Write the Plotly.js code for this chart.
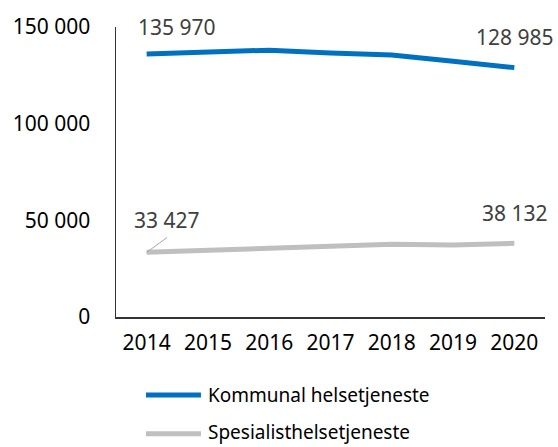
<!DOCTYPE html>
<html><head><meta charset="utf-8">
<script src="https://cdn.plot.ly/plotly-3.0.1.min.js"></script>
<style>html,body{margin:0;padding:0;background:#fff}</style>
</head><body>
<div id="chart" style="width:558px;height:447px"></div>
<script>
const years = ['2014','2015','2016','2017','2018','2019','2020'];
const kommunal = [135970, 137300, 138000, 136600, 135500, 132300, 128985];
const spesialist = [33427, 34300, 35800, 36600, 37600, 37200, 38132];
const seriesNames = ['Kommunal helsetjeneste', 'Spesialisthelsetjeneste'];
const yTicks = [0, 50000, 100000, 150000];

const blue = '#0070C0', gray = '#BFBFBF';
const fontFam = 'Noto Sans, sans-serif';
const fmt = v => String(v).replace(/\B(?=(\d{3})+(?!\d))/g, ' ');

const traces = [
  {x: years, y: kommunal, type: 'scatter', mode: 'lines', name: seriesNames[0],
   line: {color: blue, width: 5}, hoverinfo: 'skip'},
  {x: years, y: spesialist, type: 'scatter', mode: 'lines', name: seriesNames[1],
   line: {color: gray, width: 5}, hoverinfo: 'skip'}
];
const last = years.length - 1;
const lblFont = {family: fontFam, size: 21, color: '#404040'};
const legFont = {family: fontFam, size: 19, color: '#000'};
const annotations = [
  {x: 0, y: kommunal[0], text: fmt(kommunal[0]), showarrow: false, xshift: 30, yshift: 27, font: lblFont},
  {x: last, y: kommunal[last], text: fmt(kommunal[last]), showarrow: false, xshift: 1, yshift: 31, font: lblFont},
  {x: 0, y: spesialist[0], text: fmt(spesialist[0]), showarrow: false, xshift: 20, yshift: 32, font: lblFont},
  {x: 0, y: spesialist[0], text: ' ', showarrow: true, arrowhead: 0, arrowwidth: 1, arrowcolor: '#A6A6A6', ax: 22, ay: -16, standoff: 0, font: {size: 1}},
  {x: last, y: spesialist[last], text: fmt(spesialist[last]), showarrow: false, xshift: 1, yshift: 30, font: lblFont},
  {xref: 'paper', yref: 'paper', x: 0.2098, y: -0.269, xanchor: 'left', yanchor: 'middle', text: seriesNames[0], showarrow: false, font: legFont},
  {xref: 'paper', yref: 'paper', x: 0.2098, y: -0.397, xanchor: 'left', yanchor: 'middle', text: seriesNames[1], showarrow: false, font: legFont}
];
const shapes = [
  {type: 'line', xref: 'paper', yref: 'paper', x0: 0.0699, x1: 0.198, y0: -0.269, y1: -0.269, line: {color: blue, width: 5}},
  {type: 'line', xref: 'paper', yref: 'paper', x0: 0.0699, x1: 0.198, y0: -0.403, y1: -0.403, line: {color: gray, width: 5}}
];
const layout = {
  width: 558, height: 447,
  margin: {l: 116, r: 13, t: 27, b: 130},
  paper_bgcolor: '#fff', plot_bgcolor: '#fff',
  separators: ', ',
  showlegend: false,
  font: {family: fontFam, size: 21, color: '#000'},
  xaxis: {type: 'category', range: [-0.5, 6.5], showgrid: false, zeroline: false,
    showline: true, linecolor: '#333', linewidth: 1.5,
    ticks: 'outside', ticklen: 6, tickcolor: 'rgba(0,0,0,0)',
    tickfont: {family: fontFam, size: 21, color: '#000'}},
  yaxis: {range: [0, 150000], tickvals: yTicks, ticktext: yTicks.map(fmt), showgrid: false, zeroline: false,
    showline: true, linecolor: '#333', linewidth: 1.5,
    ticks: 'outside', ticklen: 20, tickcolor: 'rgba(0,0,0,0)',
    tickfont: {family: fontFam, size: 21, color: '#000'}},
  annotations: annotations,
  shapes: shapes
};
Plotly.newPlot('chart', traces, layout, {displayModeBar: false, staticPlot: true});
</script>
</body></html>
